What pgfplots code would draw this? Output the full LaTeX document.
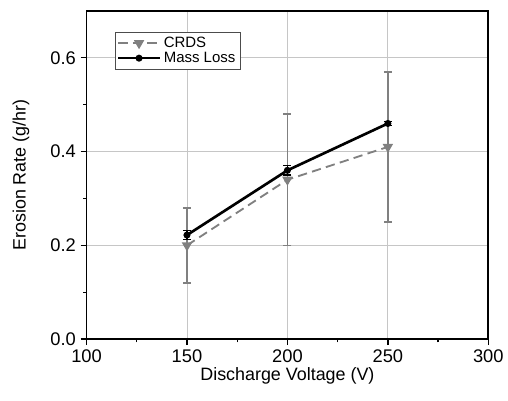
\documentclass[border=0pt]{standalone}
\usepackage{pgfplots}
\pgfplotsset{compat=1.18}
\usepackage{fontspec}
\setmainfont{Liberation Sans}
\begin{document}
\begin{tikzpicture}[x=0.75pt,y=0.75pt]
  \begin{axis}[
    scale only axis,
    width=303pt, height=247.5pt,
    xmin=100, xmax=300, ymin=0, ymax=0.7,
    xtick={100,150,...,300}, ytick={0,0.2,0.4,0.6},
    minor x tick num=1, minor y tick num=1,
    tick pos=left, tick align=outside,
    major tick length=4.5pt, minor tick length=2.5pt,
    every tick/.style={black, line width=1pt},
    axis line style={line width=1.4pt},
    grid=major, major grid style={gray!45, line width=0.6pt},
    /pgf/number format/assume math mode=true,
    yticklabel style={/pgf/number format/fixed, /pgf/number format/fixed zerofill, /pgf/number format/precision=1},
    ticklabel style={font=\fontsize{13.8}{16}\selectfont},
    label style={font=\fontsize{13.5}{16}\selectfont},
    xlabel={Discharge Voltage (V)},
    ylabel={Erosion Rate (g/hr)},
    xlabel style={yshift=3pt},
    ylabel style={yshift=9pt},
    legend style={at={(0.07,0.936)}, anchor=north west, draw=black!70, line width=0.5pt,
      font=\fontsize{11.3}{13}\selectfont, inner sep=1.5pt, row sep=-2pt},
    legend cell align=left,
    legend image code/.code={\draw[mark repeat=2,mark phase=2] plot coordinates {(0cm,0cm) (0.55cm,0cm) (1.1cm,0cm)};},
  ]
   \addplot[color=gray, dashed, dash pattern=on 7pt off 4pt, line width=1.4pt,
     mark=triangle*, mark options={solid, rotate=180, scale=1.6, fill=gray},
     error bars/.cd, y dir=both, y explicit,
     error bar style={solid, line width=1.3pt, gray}, error mark options={rotate=90, mark size=3pt, line width=1pt, gray}]
     coordinates {
      (150, 0.20) +- (0, 0.08)
      (200, 0.34) +- (0, 0.14)
      (250, 0.41) +- (0, 0.16)
     };
   \addlegendentry{CRDS}
   \addplot[color=black, line width=2pt, mark=*, mark options={scale=0.8},
     error bars/.cd, y dir=both, y explicit,
     error bar style={line width=1.2pt, black}, error mark options={rotate=90, mark size=3pt, line width=1pt, black}]
     coordinates {
      (150, 0.222) +- (0, 0.01)
      (200, 0.360) +- (0, 0.01)
      (250, 0.460) +- (0, 0.004)
     };
   \addlegendentry{Mass Loss}
  \end{axis}
  \path (current axis.south west) ++(-87,-62) rectangle ++(508,403);
\end{tikzpicture}
\end{document}
